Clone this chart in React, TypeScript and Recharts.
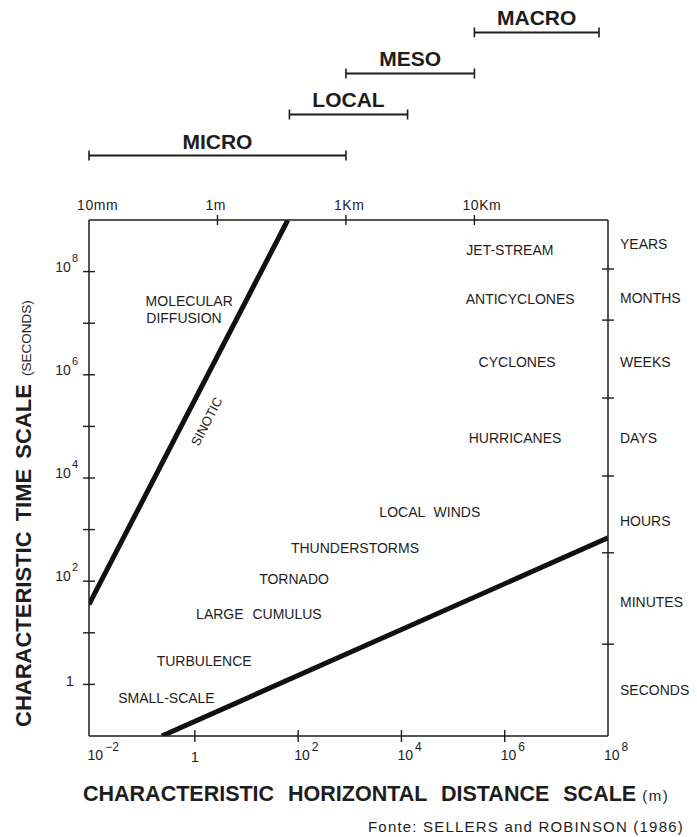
import React from 'react';
import { ComposedChart, XAxis, YAxis, Line, Scatter, ReferenceLine, Label } from 'recharts';

const FONT = '"Liberation Sans", Arial, Helvetica, sans-serif';
const INK = '#1d1d1d';

// log10 of horizontal distance (m)
const distanceTicks = [-2, 0, 2, 4, 6, 8];
// log10 of time (s)
const timeTicks = [0, 1, 2, 3, 4, 5, 6, 7, 8];
// top reference scale
const topTickValues = [0, 1, 2, 3];
const topTickLabels = ['10mm', '1m', '1Km', '10Km'];

// right-hand time periods (log10 s)
const periodNames = ['YEARS', 'MONTHS', 'WEEKS', 'DAYS', 'HOURS', 'MINUTES', 'SECONDS'];
const periodCenters = [8.53, 7.49, 6.25, 4.78, 3.17, 1.6, -0.11];
const periodBounds = [8.05, 7.06, 5.55, 4.04, 2.55, 0.78];

// scale classes on top reference scale
const scaleNames = ['MICRO', 'LOCAL', 'MESO', 'MACRO'];
const scaleFrom = [0, 1.56, 2, 3];
const scaleTo = [2, 2.48, 3, 3.97];

// boundary lines (log10 m, log10 s)
const sinoticLine = [
  { x: -2.05, y: 1.55 },
  { x: 1.8, y: 9 },
];
const lowerLine = [
  { x: -0.64, y: -1 },
  { x: 8, y: 2.84 },
];

const phenomena = [
  { label: 'JET-STREAM', x: 6.1, y: 8.42 },
  { label: 'ANTICYCLONES', x: 6.3, y: 7.47 },
  { label: 'CYCLONES', x: 6.24, y: 6.25 },
  { label: 'HURRICANES', x: 6.2, y: 4.78 },
  { label: 'LOCAL WINDS', x: 4.55, y: 3.34 },
  { label: 'THUNDERSTORMS', x: 3.1, y: 2.64 },
  { label: 'TORNADO', x: 1.92, y: 2.04 },
  { label: 'LARGE CUMULUS', x: 1.24, y: 1.36 },
  { label: 'TURBULENCE', x: 0.18, y: 0.45 },
  { label: 'SMALL-SCALE', x: -0.55, y: -0.26 },
  { label: 'MOLECULAR', x: -0.11, y: 7.43 },
  { label: 'DIFFUSION', x: -0.21, y: 7.1 },
];
const lineLabels = [{ label: 'SINOTIC', x: 0.22, y: 5.1 }];

const textStyle = { fontFamily: FONT, fill: INK };

const LeftTick = (props: any) => {
  const { x, y, payload } = props;
  const v = payload.value;
  return (
    <g>
      <line x1={x - 6} x2={x + 6} y1={y} y2={y} stroke={INK} strokeWidth={1.4} />
      {v === 0 ? (
        <text x={x - 19} y={y + 2} textAnchor="middle" fontSize={14} {...textStyle}>1</text>
      ) : v % 2 === 0 ? (
        <text x={x - 11} y={y} textAnchor="end" fontSize={14} {...textStyle}>
          10<tspan dx={1} dy={-10} fontSize={11}>{v}</tspan>
        </text>
      ) : null}
    </g>
  );
};

const BottomTick = (props: any) => {
  const { x, y, payload } = props;
  const v = payload.value;
  const inner = v > -2 && v < 8;
  return (
    <g>
      {inner && <line x1={x} x2={x} y1={y - 6} y2={y + 6} stroke={INK} strokeWidth={1.4} />}
      {v === 0 ? (
        <text x={x} y={y + 26} textAnchor="middle" fontSize={14} {...textStyle}>1</text>
      ) : (
        <text x={x - 4} y={y + 24} textAnchor="start" fontSize={14} {...textStyle}>
          10<tspan dx={2} dy={-9} fontSize={12}>{v < 0 ? '\u2212' + Math.abs(v) : String(v)}</tspan>
        </text>
      )}
    </g>
  );
};

const TopTick = (props: any) => {
  const { x, y, payload } = props;
  const v = payload.value;
  const i = topTickValues.indexOf(v);
  return (
    <g>
      {v > 0 && <line x1={x} x2={x} y1={y - 5} y2={y + 5} stroke={INK} strokeWidth={1.4} />}
      <text x={x - 12} y={y - 10} textAnchor="start" fontSize={14} letterSpacing={0.6} {...textStyle}>
        {topTickLabels[i]}
      </text>
    </g>
  );
};

const RightTick = (props: any) => {
  const { x, y, payload } = props;
  const v = payload.value;
  const idx = periodCenters.indexOf(v);
  if (idx >= 0) {
    return (
      <text x={x + 12} y={y + 5} textAnchor="start" fontSize={14} {...textStyle}>
        {periodNames[idx]}
      </text>
    );
  }
  return <line x1={x - 6} x2={x + 6} y1={y} y2={y} stroke={INK} strokeWidth={1.4} />;
};

const makeScaleBar = (name: string) => (p: any) => {
  const { x1, y1, x2 } = p;
  return (
    <g>
      <line x1={x1} x2={x2} y1={y1} y2={y1} stroke={INK} strokeWidth={2} />
      <line x1={x1} x2={x1} y1={y1 - 5} y2={y1 + 5} stroke={INK} strokeWidth={1.6} />
      <line x1={x2} x2={x2} y1={y1 - 5} y2={y1 + 5} stroke={INK} strokeWidth={1.6} />
      <text x={(x1 + x2) / 2} y={y1 - 7} textAnchor="middle" fontSize={21} fontWeight="bold" {...textStyle}>
        {name}
      </text>
    </g>
  );
};

const PhenomenonLabel = (p: any) => {
  const { cx, cy, payload } = p;
  return (
    <text x={cx} y={cy + 5} textAnchor="middle" fontSize={14} style={{ wordSpacing: 5 }} {...textStyle}>
      {payload.label}
    </text>
  );
};

const SinoticLabel = (p: any) => {
  const { cx, cy, payload } = p;
  return (
    <text
      x={cx}
      y={cy + 5}
      textAnchor="middle"
      fontSize={13}
      transform={`rotate(-62.6 ${cx} ${cy})`}
      {...textStyle}
    >
      {payload.label}
    </text>
  );
};

const BottomTitle = () => (
  <g>
    <text x={83} y={801} fontSize={21.5} fontWeight="bold" style={{ wordSpacing: 8 }} {...textStyle}>
      CHARACTERISTIC HORIZONTAL DISTANCE SCALE
      <tspan dx={6} fontSize={15} fontWeight="normal" letterSpacing={1.5}>(m)</tspan>
    </text>
    <text x={368} y={832} fontSize={15} letterSpacing={1.2} {...textStyle}>
      Fonte: SELLERS and ROBINSON (1986)
    </text>
  </g>
);

const LeftTitle = () => (
  <g transform="translate(31, 727) rotate(-90)">
    <text x={0} y={0} fontSize={22} fontWeight="bold" style={{ wordSpacing: 4 }} {...textStyle}>
      CHARACTERISTIC TIME SCALE
      <tspan dx={8} fontSize={13.5} fontWeight="normal">(SECONDS)</tspan>
    </text>
  </g>
);

const axisLine = { stroke: INK, strokeWidth: 1.5 };

export default function App() {
  return (
    <div style={{ position: 'absolute', left: 0, top: 0, background: '#fff' }}>
      <ComposedChart width={697} height={837} margin={{ top: 190, right: 9, bottom: 61, left: 29 }}>
        <XAxis
          xAxisId="bottom"
          dataKey="x"
          type="number"
          orientation="bottom"
          domain={[-2.05, 8]}
          allowDataOverflow
          ticks={distanceTicks}
          interval={0}
          tickSize={0}
          tickMargin={0}
          tickLine={false}
          tick={BottomTick}
          axisLine={axisLine}
          height={40}
        >
          <Label content={BottomTitle} />
        </XAxis>
        <XAxis
          xAxisId="top"
          dataKey="t"
          type="number"
          orientation="top"
          domain={[0, 4.04]}
          allowDataOverflow
          ticks={topTickValues}
          interval={0}
          tickSize={0}
          tickMargin={0}
          tickLine={false}
          tick={TopTick}
          axisLine={axisLine}
          height={30}
        />
        <YAxis
          yAxisId="left"
          dataKey="y"
          type="number"
          orientation="left"
          domain={[-1, 9]}
          allowDataOverflow
          ticks={timeTicks}
          interval={0}
          tickSize={0}
          tickMargin={0}
          tickLine={false}
          tick={LeftTick}
          axisLine={axisLine}
          width={60}
        >
          <Label content={LeftTitle} />
        </YAxis>
        <YAxis
          yAxisId="right"
          dataKey="y"
          type="number"
          orientation="right"
          domain={[-1, 9]}
          allowDataOverflow
          ticks={[...periodBounds, ...periodCenters]}
          interval={0}
          tickSize={0}
          tickMargin={0}
          tickLine={false}
          tick={RightTick}
          axisLine={axisLine}
          width={80}
        />
        {scaleNames.map((name, i) => {
          const level = 10.25 + i * 0.795;
          return (
            <ReferenceLine
              key={name}
              xAxisId="top"
              yAxisId="left"
              ifOverflow="visible"
              segment={[
                { x: scaleFrom[i], y: level },
                { x: scaleTo[i], y: level },
              ]}
              shape={makeScaleBar(name)}
            />
          );
        })}
        <Line
          xAxisId="bottom"
          yAxisId="left"
          data={sinoticLine}
          dataKey="y"
          stroke="#111"
          strokeWidth={5}
          dot={false}
          activeDot={false}
          isAnimationActive={false}
        />
        <Line
          xAxisId="bottom"
          yAxisId="left"
          data={lowerLine}
          dataKey="y"
          stroke="#111"
          strokeWidth={5}
          dot={false}
          activeDot={false}
          isAnimationActive={false}
        />
        <Scatter
          xAxisId="bottom"
          yAxisId="left"
          data={phenomena}
          shape={PhenomenonLabel}
          isAnimationActive={false}
        />
        <Scatter
          xAxisId="bottom"
          yAxisId="left"
          data={lineLabels}
          shape={SinoticLabel}
          isAnimationActive={false}
        />
      </ComposedChart>
    </div>
  );
}
